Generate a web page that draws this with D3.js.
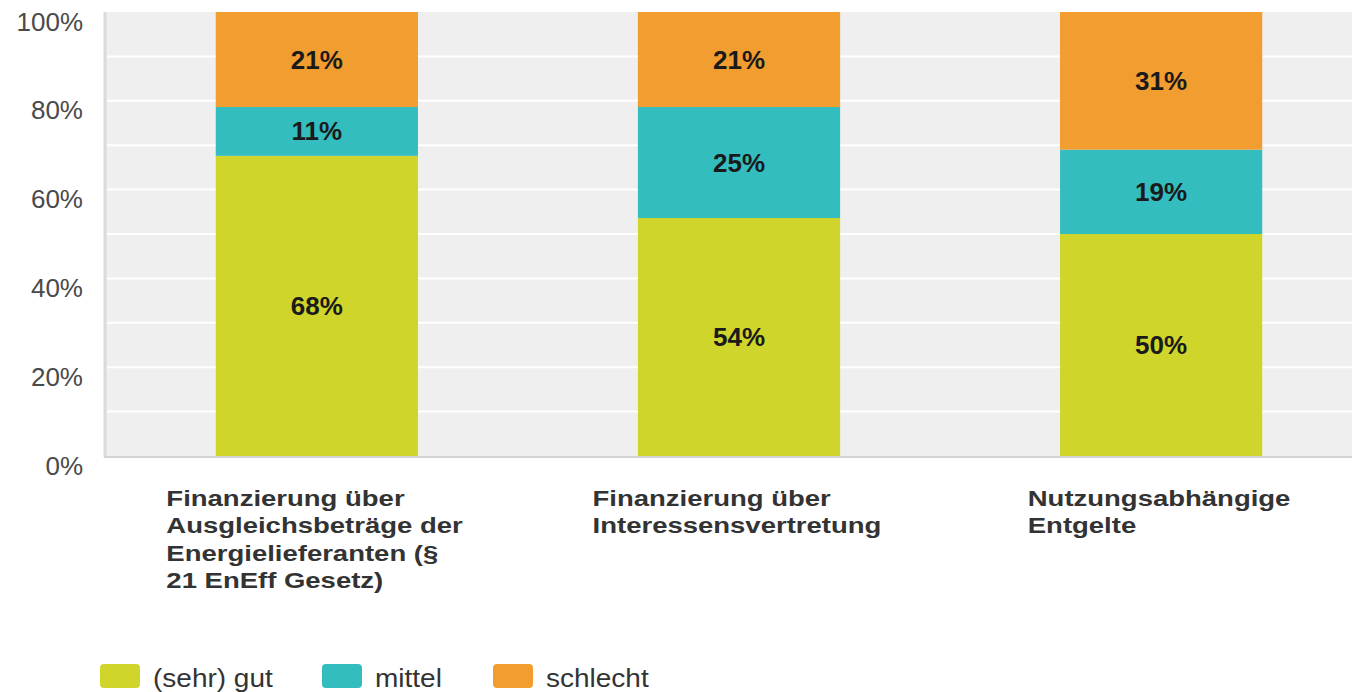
<!DOCTYPE html>
<html>
<head>
<meta charset="utf-8">
<script src="https://cdn.jsdelivr.net/npm/d3@7"></script>
<style>
  body { margin: 0; background: #fff; }
  text { font-family: "Liberation Sans", Arial, sans-serif; }
</style>
</head>
<body>
<svg id="chart" width="1352" height="692"></svg>
<script>
// data
var categories = [
  "Finanzierung über|Ausgleichsbeträge der|Energielieferanten (§|21 EnEff Gesetz)",
  "Finanzierung über|Interessensvertretung",
  "Nutzungsabhängige|Entgelte"
];
var seriesNames = ["(sehr) gut", "mittel", "schlecht"];
var gut = [67.6, 53.6, 50];
var mittel = [11, 25, 19];
var schlecht = [21.4, 21.4, 31];
var yTicks = [0, 20, 40, 60, 80, 100];
var colors = ["#cfd52a", "#33bdbf", "#f29d2f"];

var margin = { top: 12, right: -20, bottom: 236, left: 106 };
var width = 1352 - margin.left - margin.right;
var height = 692 - margin.top - margin.bottom;

var svg = d3.select('#chart');
var g = svg.append('g')
  .attr('transform', 'translate(' + margin.left + ',' + margin.top + ')');

var rows = categories.map(function(c, i) {
  return { cat: c, gut: gut[i], mittel: mittel[i], schlecht: schlecht[i] };
});
var keys = ["gut", "mittel", "schlecht"];
var stacked = d3.stack().keys(keys)(rows);

var x = d3.scaleBand()
  .domain(categories)
  .range([0, width])
  .paddingInner(0.521)
  .paddingOuter(0.26);

var y = d3.scaleLinear()
  .domain([0, 100])
  .range([height, 0]);

// background
g.append('rect')
  .attr('x', 0).attr('y', 0)
  .attr('width', width).attr('height', height)
  .style('fill', '#efefef');

// gridlines every 10%
g.append('g')
  .selectAll('line')
  .data(d3.range(10, 100, 10))
  .enter()
  .append('line')
    .attr('x1', 1).attr('x2', width)
    .attr('y1', d => y(d)).attr('y2', d => y(d))
    .style('stroke', '#fff')
    .style('stroke-width', 2);

// bars
g.selectAll('.layer')
  .data(stacked)
  .enter()
  .append('g')
    .attr('class', 'layer')
    .style('fill', (d, i) => colors[i])
  .selectAll('rect')
  .data(d => d)
  .enter()
  .append('rect')
    .attr('x', d => x(d.data.cat))
    .attr('y', d => y(d[1]))
    .attr('width', x.bandwidth())
    .attr('height', d => y(d[0]) - y(d[1]));

// value labels
var fmt = d3.format('.0f');
stacked.forEach(function(layer) {
  g.append('g')
    .selectAll('text')
    .data(layer)
    .enter()
    .append('text')
      .attr('x', d => x(d.data.cat) + x.bandwidth() / 2)
      .attr('y', d => (y(d[0]) + y(d[1])) / 2)
      .attr('text-anchor', 'middle')
      .attr('dominant-baseline', 'central')
      .style('font-size', '26px')
      .style('font-weight', 'bold')
      .style('fill', '#1a1a1a')
      .text(d => fmt(d[1] - d[0]) + '%');
});

// axis lines
g.append('line')
  .attr('x1', -1).attr('x2', -1)
  .attr('y1', 0).attr('y2', height + 1)
  .style('stroke', '#dadada').style('stroke-width', 3);
g.append('line')
  .attr('x1', -2).attr('x2', width)
  .attr('y1', height + 1).attr('y2', height + 1)
  .style('stroke', '#d4d4d4').style('stroke-width', 2);

// y axis (labels only)
var yAxis = d3.axisLeft(y)
  .tickValues(yTicks)
  .tickSize(0)
  .tickPadding(23)
  .tickFormat(d => d + '%');
var yg = g.append('g').call(yAxis);
yg.select('.domain').remove();
yg.selectAll('text')
  .attr('dy', '0.35em')
  .attr('y', 9)
  .style('font-size', '26px')
  .style('fill', '#4a4a4a')
  .style('font-family', '"Liberation Sans", Arial, sans-serif');

// category labels, block left aligned, centred under bar
var catScale = 1.25;
categories.forEach(function(c) {
  var lines = c.split('|');
  var cg = g.append('g');
  var t = cg.append('text')
    .style('font-size', '22px')
    .style('font-weight', 'bold')
    .style('fill', '#333');
  lines.forEach(function(l, i) {
    t.append('tspan').attr('x', 0).attr('y', i * 27.5).text(l);
  });
  var w = t.node().getBBox().width * catScale;
  var cx = x(c) + x.bandwidth() / 2;
  cg.attr('transform', 'translate(' + (cx - w / 2 - 2) + ',' + (height + 50) + ') scale(' + catScale + ',1)');
});

// legend
var legendX = [100, 322, 493];
var legend = svg.append('g');
seriesNames.forEach(function(name, i) {
  legend.append('rect')
    .attr('x', legendX[i]).attr('y', 664)
    .attr('width', 40).attr('height', 24)
    .attr('rx', 4)
    .style('fill', colors[i]);
  legend.append('text')
    .attr('transform', 'translate(' + (legendX[i] + 53) + ',687) scale(1.12,1)')
    .style('font-size', '25px')
    .style('fill', '#333')
    .text(name);
});
</script>
</body>
</html>
